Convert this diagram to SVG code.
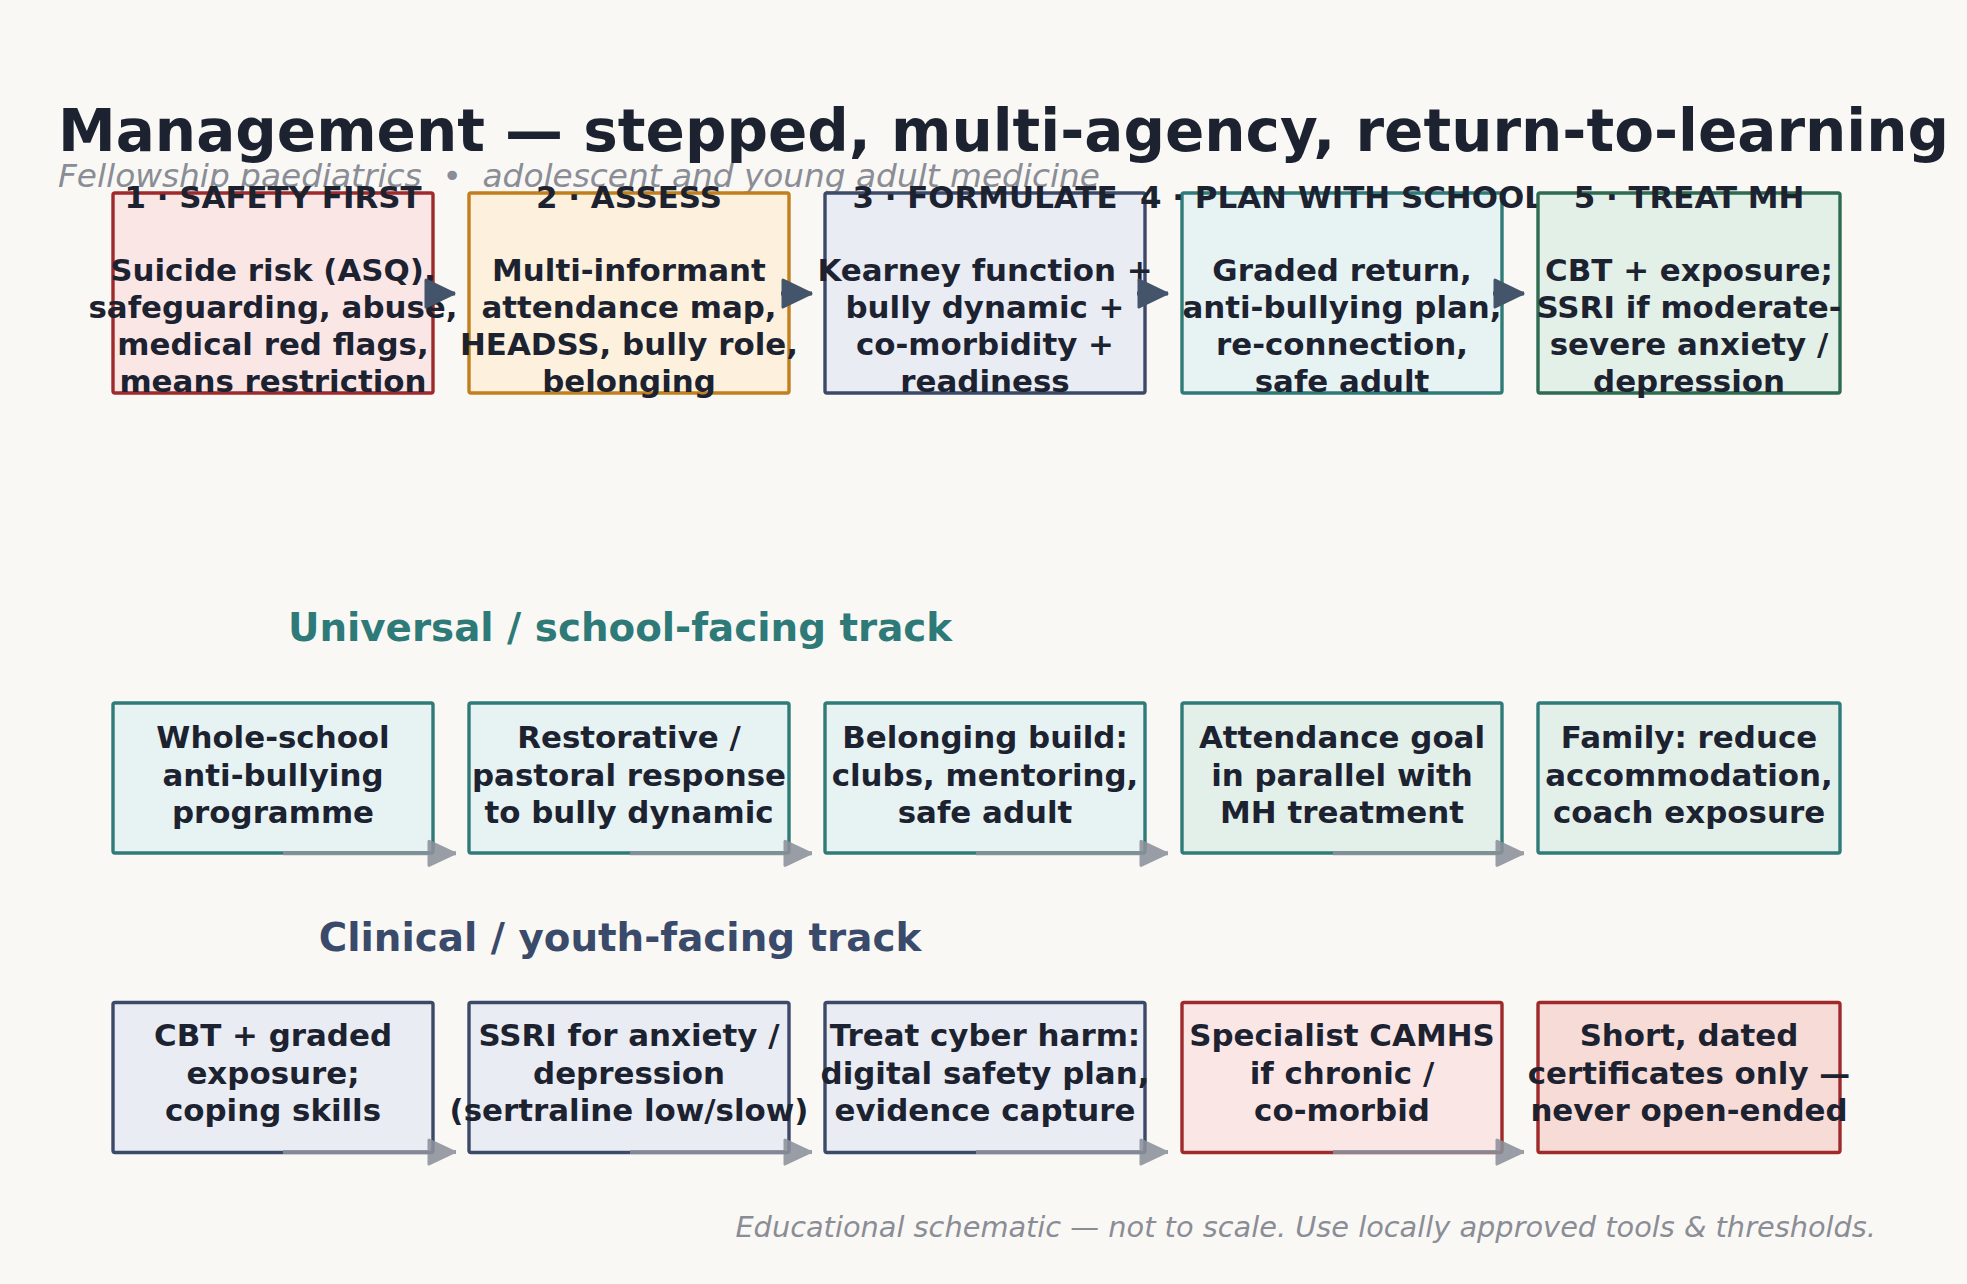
<svg xmlns="http://www.w3.org/2000/svg" width="1967" height="1284" viewBox="0 0 1967 1284">
<defs>
<style>
text{font-family:"DejaVu Sans","Liberation Sans",sans-serif;fill:#1c2230}
.title{font-size:58px;font-weight:bold}
.sub{font-size:32.75px;font-style:italic;fill:#8a8d96;white-space:pre}
.foot{font-size:28.8px;font-style:italic;fill:#8a8d96}
.hd{font-size:30.9px;font-weight:bold;text-anchor:middle}
.bd{font-size:30.9px;font-weight:bold;text-anchor:middle}
.sec{font-size:38.8px;font-weight:bold;text-anchor:middle}
.box{stroke-width:3.4}
.red{fill:#fbe6e6;stroke:#9e2a2b}
.red2{fill:#f7dbd7;stroke:#9e2a2b}
.amb{fill:#fdf0dc;stroke:#c17f1d}
.sla{fill:#e9ecf2;stroke:#3c4a6a}
.tea{fill:#e7f3f3;stroke:#2f7b78}
.tea2{fill:#e3f0ea;stroke:#2f7b78}
.grn{fill:#e3f0e7;stroke:#2e6b50}
.cd{stroke:#44546a;stroke-width:4;fill:none}
.cg{stroke:#8c919b;stroke-width:4;fill:none;opacity:0.88}
</style>
<marker id="ad" markerUnits="userSpaceOnUse" viewBox="0 0 34 33" markerWidth="34" markerHeight="33" refX="32" refY="16.5" orient="auto">
<path d="M3,3 L31,16.5 L3,30 Z" fill="#44546a" stroke="#44546a" stroke-width="3" stroke-linejoin="round"/>
</marker>
<marker id="ag" markerUnits="userSpaceOnUse" viewBox="0 0 32 30" markerWidth="32" markerHeight="30" refX="30" refY="15" orient="auto">
<path d="M3,3 L28.5,15 L3,27 Z" fill="#8c919b" stroke="#8c919b" stroke-width="3" stroke-linejoin="round"/>
</marker>
</defs>
<rect width="1967" height="1284" fill="#faf8f4"/>

<text class="title" x="58" y="151">Management — stepped, multi-agency, return-to-learning</text>
<text class="sub" x="58" y="187" xml:space="preserve">Fellowship paediatrics  •  adolescent and young adult medicine</text>

<g id="step1">
<rect class="box red" x="113" y="193" width="320" height="200" rx="2"/>
<text class="hd" x="273" y="208">1 · SAFETY FIRST</text>
<text class="bd" x="273" y="281">Suicide risk (ASQ),</text>
<text class="bd" x="273" y="318">safeguarding, abuse,</text>
<text class="bd" x="273" y="355">medical red flags,</text>
<text class="bd" x="273" y="392">means restriction</text>
</g>
<g id="step2">
<rect class="box amb" x="469" y="193" width="320" height="200" rx="2"/>
<text class="hd" x="629" y="208">2 · ASSESS</text>
<text class="bd" x="629" y="281">Multi-informant</text>
<text class="bd" x="629" y="318">attendance map,</text>
<text class="bd" x="629" y="355">HEADSS, bully role,</text>
<text class="bd" x="629" y="392">belonging</text>
</g>
<g id="step3">
<rect class="box sla" x="825" y="193" width="320" height="200" rx="2"/>
<text class="hd" x="985" y="208">3 · FORMULATE</text>
<text class="bd" x="985" y="281">Kearney function +</text>
<text class="bd" x="985" y="318">bully dynamic +</text>
<text class="bd" x="985" y="355">co-morbidity +</text>
<text class="bd" x="985" y="392">readiness</text>
</g>
<g id="step4">
<rect class="box tea" x="1182" y="193" width="320" height="200" rx="2"/>
<text class="hd" x="1342" y="208">4 · PLAN WITH SCHOOL</text>
<text class="bd" x="1342" y="281">Graded return,</text>
<text class="bd" x="1342" y="318">anti-bullying plan,</text>
<text class="bd" x="1342" y="355">re-connection,</text>
<text class="bd" x="1342" y="392">safe adult</text>
</g>
<g id="step5">
<rect class="box grn" x="1538" y="193" width="302" height="200" rx="2"/>
<text class="hd" x="1689" y="208">5 · TREAT MH</text>
<text class="bd" x="1689" y="281">CBT + exposure;</text>
<text class="bd" x="1689" y="318">SSRI if moderate-</text>
<text class="bd" x="1689" y="355">severe anxiety /</text>
<text class="bd" x="1689" y="392">depression</text>
</g>

<text class="sec" x="620" y="641" style="fill:#2e7a78">Universal / school-facing track</text>

<g id="u1">
<rect class="box tea" x="113" y="703" width="320" height="150" rx="2"/>
<text class="bd" x="273" y="748">Whole-school</text>
<text class="bd" x="273" y="785.5">anti-bullying</text>
<text class="bd" x="273" y="823">programme</text>
</g>
<g id="u2">
<rect class="box tea" x="469" y="703" width="320" height="150" rx="2"/>
<text class="bd" x="629" y="748">Restorative /</text>
<text class="bd" x="629" y="785.5">pastoral response</text>
<text class="bd" x="629" y="823">to bully dynamic</text>
</g>
<g id="u3">
<rect class="box tea" x="825" y="703" width="320" height="150" rx="2"/>
<text class="bd" x="985" y="748">Belonging build:</text>
<text class="bd" x="985" y="785.5">clubs, mentoring,</text>
<text class="bd" x="985" y="823">safe adult</text>
</g>
<g id="u4">
<rect class="box tea2" x="1182" y="703" width="320" height="150" rx="2"/>
<text class="bd" x="1342" y="748">Attendance goal</text>
<text class="bd" x="1342" y="785.5">in parallel with</text>
<text class="bd" x="1342" y="823">MH treatment</text>
</g>
<g id="u5">
<rect class="box tea2" x="1538" y="703" width="302" height="150" rx="2"/>
<text class="bd" x="1689" y="748">Family: reduce</text>
<text class="bd" x="1689" y="785.5">accommodation,</text>
<text class="bd" x="1689" y="823">coach exposure</text>
</g>

<text class="sec" x="620" y="951" style="fill:#3a4a6a">Clinical / youth-facing track</text>

<g id="c1">
<rect class="box sla" x="113" y="1002.5" width="320" height="150" rx="2"/>
<text class="bd" x="273" y="1046">CBT + graded</text>
<text class="bd" x="273" y="1083.5">exposure;</text>
<text class="bd" x="273" y="1121">coping skills</text>
</g>
<g id="c2">
<rect class="box sla" x="469" y="1002.5" width="320" height="150" rx="2"/>
<text class="bd" x="629" y="1046">SSRI for anxiety /</text>
<text class="bd" x="629" y="1083.5">depression</text>
<text class="bd" x="629" y="1121">(sertraline low/slow)</text>
</g>
<g id="c3">
<rect class="box sla" x="825" y="1002.5" width="320" height="150" rx="2"/>
<text class="bd" x="985" y="1046">Treat cyber harm:</text>
<text class="bd" x="985" y="1083.5">digital safety plan,</text>
<text class="bd" x="985" y="1121">evidence capture</text>
</g>
<g id="c4">
<rect class="box red" x="1182" y="1002.5" width="320" height="150" rx="2"/>
<text class="bd" x="1342" y="1046">Specialist CAMHS</text>
<text class="bd" x="1342" y="1083.5">if chronic /</text>
<text class="bd" x="1342" y="1121">co-morbid</text>
</g>
<g id="c5">
<rect class="box red2" x="1538" y="1002.5" width="302" height="150" rx="2"/>
<text class="bd" x="1689" y="1046">Short, dated</text>
<text class="bd" x="1689" y="1083.5">certificates only —</text>
<text class="bd" x="1689" y="1121">never open-ended</text>
</g>

<g id="connectors">
<path class="cd" d="M425,293.5 H455" marker-end="url(#ad)"/>
<path class="cd" d="M781,293.5 H812" marker-end="url(#ad)"/>
<path class="cd" d="M1137,293.5 H1168" marker-end="url(#ad)"/>
<path class="cd" d="M1493,293.5 H1524" marker-end="url(#ad)"/>
<path class="cg" d="M283,853.3 H456" marker-end="url(#ag)"/>
<path class="cg" d="M630,853.3 H812" marker-end="url(#ag)"/>
<path class="cg" d="M976,853.3 H1168" marker-end="url(#ag)"/>
<path class="cg" d="M1333,853.3 H1524" marker-end="url(#ag)"/>
<path class="cg" d="M283,1152 H456" marker-end="url(#ag)"/>
<path class="cg" d="M630,1152 H812" marker-end="url(#ag)"/>
<path class="cg" d="M976,1152 H1168" marker-end="url(#ag)"/>
<path class="cg" d="M1333,1152 H1524" marker-end="url(#ag)"/>
</g>

<text class="foot" x="1876" y="1237" style="text-anchor:end">Educational schematic — not to scale. Use locally approved tools &amp; thresholds.</text>
</svg>
